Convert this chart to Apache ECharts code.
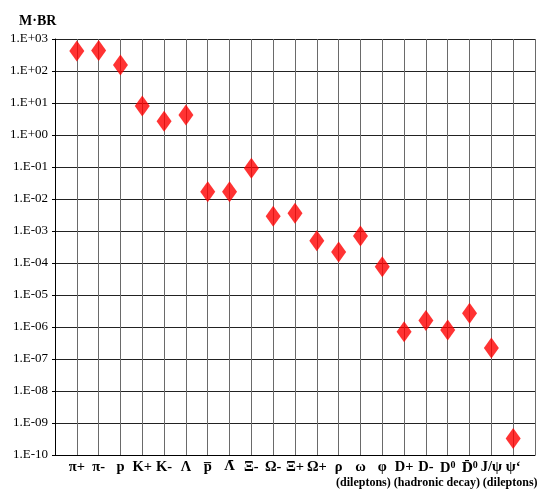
<!DOCTYPE html>
<html>
<head>
<meta charset="utf-8">
<script src="https://cdn.jsdelivr.net/npm/echarts@6/dist/echarts.min.js"></script>
<style>
  html, body { margin: 0; padding: 0; background: #fff; }
  #chart { width: 541px; height: 495px; }
</style>
</head>
<body>
<div id="chart"></div>
<script>
// Particle species along the horizontal axis (rich-text tags for barred symbols and D0 superscripts)
const categories = [
  'π+', 'π-', 'p', 'K+', 'K-', 'Λ', 'p\u0305', '{ov|Λ\u0304}', 'Ξ-', 'Ω-', 'Ξ+', 'Ω+',
  'ρ', 'ω', 'φ', 'D+', 'D-', '{b|D}{sup|0}', '{ov|D\u0304}{sup|0}', 'J/ψ', 'ψ‘'
];

// Multiplicity × branching ratio for each species
const mbr = [
  420, 440, 154, 8.0, 2.7, 4.2, 0.017, 0.017, 0.091, 0.0029, 0.0036, 0.00050,
  0.00022, 0.0007, 7.6e-5, 7.1e-7, 1.6e-6, 8.1e-7, 2.7e-6, 2.2e-7, 3.3e-10
];

// Decade tick labels, from 1e-10 up to 1e+03
const yTickLabels = [
  '1.E-10', '1.E-09', '1.E-08', '1.E-07', '1.E-06', '1.E-05', '1.E-04',
  '1.E-03', '1.E-02', '1.E-01', '1.E+00', '1.E+01', '1.E+02', '1.E+03'
];

// Decay-channel note under the ρ … ψ‘ columns (centred on the D-meson group)
const channelNote = '(dileptons) (hadronic decay) (dileptons)';
const channelGroup = ['D+', 'D-', '{b|D}{sup|0}', '{ov|D\u0304}{sup|0}'];

const serif = '"Liberation Serif", "Times New Roman", serif';
const chart = echarts.init(document.getElementById('chart'), null, { renderer: 'canvas' });

const option = {
  animation: false,
  backgroundColor: '#fff',
  grid: { left: 55, right: 6, top: 39, bottom: 40, containLabel: false },
  title: {
    text: 'M·BR',
    left: 14, top: 9,
    textStyle: { fontFamily: serif, fontWeight: 'bold', fontSize: 14, color: '#000' }
  },
  xAxis: {
    type: 'value',
    min: 0, max: categories.length + 1, interval: 1,
    axisLine: { show: true, onZero: false, lineStyle: { color: '#000', width: 1 } },
    axisTick: { show: false },
    splitLine: { show: true, lineStyle: { color: '#6a6a6a', width: 1 } },
    axisLabel: {
      margin: 5,
      fontFamily: serif, fontWeight: 'bold', fontSize: 14.5, color: '#000',
      showMinLabel: true, showMaxLabel: true,
      formatter: v => categories[v - 1] || '',
      rich: {
        b: { fontFamily: serif, fontWeight: 'bold', fontSize: 14.5, color: '#000' },
        ov: { fontFamily: '"DejaVu Serif", serif', fontWeight: 'bold', fontSize: 13, color: '#000' },
        sup: { fontFamily: serif, fontWeight: 'bold', fontSize: 10, color: '#000', padding: [0, 0, 7, 0] }
      }
    }
  },
  yAxis: {
    type: 'log',
    logBase: 10,
    min: 1e-10, max: 1e3,
    interval: 1,
    axisLine: { show: true, lineStyle: { color: '#000', width: 1 } },
    axisTick: { show: true, length: 3, lineStyle: { color: '#000' } },
    splitLine: { show: true, lineStyle: { color: '#222', width: 1 } },
    axisLabel: {
      margin: 7,
      fontFamily: serif, fontSize: 13, color: '#000',
      formatter: v => yTickLabels[Math.round(Math.log10(v)) + 10] || ''
    }
  },
  series: [{
    type: 'scatter',
    symbol: 'diamond',
    symbolSize: [15, 21],
    itemStyle: { color: '#ff0000' },
    data: mbr.map((v, i) => [i + 1, v])
  }]
};

chart.setOption(option);

// Place the decay-channel note centred under the D-meson columns
const first = categories.indexOf(channelGroup[0]) + 1;
const last = categories.indexOf(channelGroup[channelGroup.length - 1]) + 1;
const cx = chart.convertToPixel({ xAxisIndex: 0 }, (first + last) / 2);
const axisY = chart.convertToPixel({ yAxisIndex: 0 }, 1e-10);
chart.setOption({
  graphic: [{
    type: 'text',
    x: cx, y: axisY + 28,
    style: {
      text: channelNote,
      font: 'bold 12px ' + serif,
      fill: '#000',
      align: 'center',
      verticalAlign: 'middle'
    }
  }]
});
</script>
</body>
</html>
